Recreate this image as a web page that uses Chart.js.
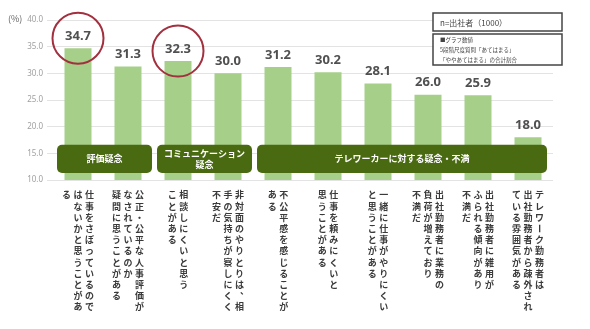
<!DOCTYPE html>
<html><head><meta charset="utf-8">
<script src="https://cdn.jsdelivr.net/npm/chart.js@4"></script>
<style>html,body{margin:0;padding:0;background:#fff}#wrap{width:590px;height:329px}</style>
</head><body><div id="wrap"><canvas id="c"></canvas></div>
<script>
const categoryColumns = [
  ['仕事をさぼっているので','はないかと思うことがあ','る'],
  ['公正・公平な人事評価が','なされているのか','疑問に思うことがある'],
  ['相談しにくいと思う','ことがある'],
  ['非対面のやりとりは、相','手の気持ちが察しにくく','不安だ'],
  ['不公平感を感じることが','ある'],
  ['仕事を頼みにくいと','思うことがある'],
  ['一緒に仕事がやりにくい','と思うことがある'],
  ['出社勤務者に業務の','負荷が増えており','不満だ'],
  ['出社勤務者に雑用が','ふられる傾向があり','不満だ'],
  ['テレワーク勤務者は','出社勤務者から疎外され','ている雰囲気がある']
];
const values = [34.7, 31.3, 32.3, 30.0, 31.2, 30.2, 28.1, 26.0, 25.9, 18.0];
const highlighted = [0, 2];
const groupLabels = [['評価疑念'], ['コミュニケーション','疑念'], ['テレワーカーに対する疑念・不満']];
const groupStart = [0, 2, 4];
const groupEnd = [1, 3, 9];
const yMin = 10, yMax = 40, yStep = 5;
const yUnit = '(%)';
const noteTitle = 'n=出社者（1000）';
const noteLines = ['■グラフ数値','5段階尺度質問「あてはまる」','「ややあてはまる」の合計割合'];

const JP = '"Noto Sans CJK JP", "Noto Sans", sans-serif';

const overlay = {
  id: 'overlay',
  afterDatasetsDraw(chart) {
    const ctx = chart.ctx;
    const xs = chart.scales.x, ys = chart.scales.y;
    const meta = chart.getDatasetMeta(0);
    const half = (xs.getPixelForValue(1) - xs.getPixelForValue(0)) / 2;
    ctx.save();
    ctx.font = 'bold 13px "Noto Sans", sans-serif';
    ctx.fillStyle = '#505050';
    ctx.textAlign = 'center';
    ctx.textBaseline = 'middle';
    meta.data.forEach((bar, i) => {
      const ly = bar.y - 12;
      ctx.fillText(values[i].toFixed(1), bar.x, ly);
      if (highlighted.includes(i)) {
        ctx.save();
        ctx.strokeStyle = '#a3303f';
        ctx.lineWidth = 2;
        ctx.beginPath();
        ctx.arc(bar.x, ly + 2, 25.5, 0, Math.PI * 2);
        ctx.stroke();
        ctx.restore();
      }
    });
    ctx.restore();
    ctx.save();
    const top = ys.getPixelForValue(16.6), bot = ys.getPixelForValue(11.3);
    groupLabels.forEach((lines, g) => {
      const l = xs.getPixelForValue(groupStart[g]) - half + 4;
      const r = xs.getPixelForValue(groupEnd[g]) + half - (g === 2 ? 6 : 1);
      ctx.fillStyle = '#4a6a12';
      ctx.beginPath();
      ctx.roundRect(l, top, r - l, bot - top, 5);
      ctx.fill();
      ctx.fillStyle = '#ffffff';
      ctx.font = 'bold 9px ' + JP;
      ctx.textAlign = 'center';
      ctx.textBaseline = 'middle';
      const cy = (top + bot) / 2;
      const lh = 11;
      lines.forEach((t, k) => {
        ctx.fillText(t, (l + r) / 2, cy + (k - (lines.length - 1) / 2) * lh);
      });
    });
    ctx.restore();
  },
  afterDraw(chart) {
    const ctx = chart.ctx;
    const xs = chart.scales.x;
    ctx.save();
    ctx.font = 'bold 9px ' + JP;
    ctx.fillStyle = '#3a3a3a';
    ctx.textAlign = 'center';
    ctx.textBaseline = 'middle';
    const colGap = 11.5, rowGap = 11.2, y0 = 195;
    categoryColumns.forEach((cols, i) => {
      const cx = xs.getPixelForValue(i);
      const n = cols.length;
      cols.forEach((col, j) => {
        const x = cx + ((n - 1) / 2 - j) * colGap;
        [...col].forEach((ch, k) => {
          const y = y0 + k * rowGap;
          if (ch === 'ー') {
            ctx.save();
            ctx.translate(x, y);
            ctx.rotate(Math.PI / 2);
            ctx.fillText(ch, 0, 0);
            ctx.restore();
          } else if (ch === '、' || ch === '。') {
            ctx.fillText(ch, x + 5, y - 5);
          } else {
            ctx.fillText(ch, x, y);
          }
        });
      });
    });
    ctx.font = '9px ' + JP;
    ctx.fillStyle = '#666';
    ctx.textAlign = 'left';
    ctx.fillText(yUnit, 8, 19);
    ctx.strokeStyle = '#444';
    ctx.lineWidth = 1.5;
    ctx.fillStyle = '#fff';
    ctx.fillRect(433, 13, 129, 18);
    ctx.strokeRect(433, 13, 129, 18);
    ctx.fillRect(433, 34, 129, 31);
    ctx.strokeRect(433, 34, 129, 31);
    ctx.fillStyle = '#444';
    ctx.font = '8px ' + JP;
    ctx.textBaseline = 'middle';
    ctx.fillText(noteTitle, 440, 22.5);
    ctx.font = '5.5px ' + JP;
    noteLines.forEach((t, k) => ctx.fillText(t, 440, 40 + k * 10));
    ctx.restore();
  }
};

new Chart(document.getElementById('c'), {
  type: 'bar',
  data: {
    labels: categoryColumns.map(c => c.join('')),
    datasets: [{
      data: values,
      backgroundColor: '#a6cf89',
      barPercentage: 0.54,
      categoryPercentage: 1.0
    }]
  },
  options: {
    responsive: true,
    maintainAspectRatio: false,
    animation: false,
    layout: { padding: { left: 0, right: 37, top: 20, bottom: 149 } },
    plugins: { legend: { display: false }, tooltip: { enabled: false } },
    scales: {
      x: { display: false },
      y: {
        min: yMin, max: yMax,
        afterFit(s) { s.width = 53; },
        ticks: {
          stepSize: yStep,
          padding: 4,
          color: '#a0a0a0',
          font: { size: 8, family: '"Noto Sans", sans-serif' },
          callback: v => Number(v).toFixed(1)
        },
        grid: { color: '#e3e3e3', tickLength: 6, tickColor: '#e3e3e3' },
        border: { display: false }
      }
    }
  },
  plugins: [overlay]
});
</script>
</body></html>
